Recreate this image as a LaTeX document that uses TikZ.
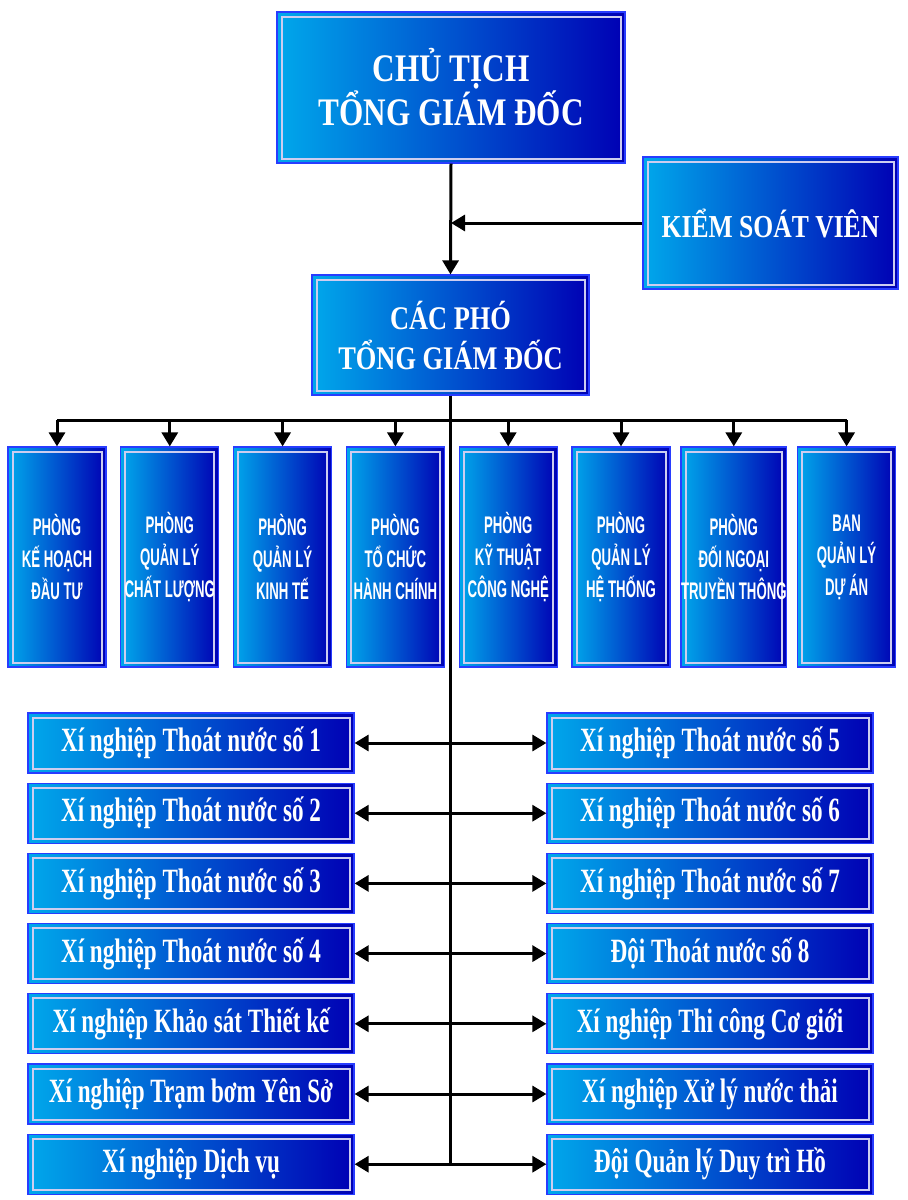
\documentclass[tikz,border=0pt]{standalone}
\usepackage{fontspec}
\setmainfont{Liberation Serif}
\newfontfamily\boxserif[FakeStretch=0.8]{Liberation Serif}
\newfontfamily\unitserif[FakeStretch=0.68]{Liberation Serif}
\newfontfamily\deptsans[FakeStretch=0.55]{Liberation Sans}
\usetikzlibrary{arrows.meta}
\definecolor{mycyan}{RGB}{0,168,235}
\definecolor{mydarkblue}{RGB}{0,0,180}
\definecolor{myedge}{RGB}{40,60,255}
\definecolor{myframe}{RGB}{205,205,240}
\tikzset{
  orgbox/.style={draw=myedge,line width=1.2pt,left color=mycyan,right color=mydarkblue,
    inner sep=0pt,text=white,align=center,
    path picture={\draw[myframe,line width=2pt]
      ([shift={(4.5pt,-4.5pt)}]path picture bounding box.north west) rectangle
      ([shift={(-4.5pt,4.5pt)}]path picture bounding box.south east);}},
  deptbox/.style={orgbox,minimum width=98pt,minimum height=220pt,
    font=\deptsans\bfseries\fontsize{24}{32}\selectfont},
  unitbox/.style={orgbox,minimum width=326pt,minimum height=60pt,
    font=\unitserif\bfseries\fontsize{34}{40}\selectfont},
  link/.style={line width=3pt},
  linkarrow/.style={line width=3pt,-{Triangle[width=16pt,length=14pt]}},
  linkboth/.style={line width=3pt,{Triangle[width=16pt,length=14pt]}-{Triangle[width=16pt,length=14pt]}}
}

\begin{document}
\begin{tikzpicture}[x=1pt,y=-1pt]
  \useasboundingbox (0,0) rectangle (908,1200);
  \node[orgbox,minimum width=348pt,minimum height=151pt,
    font=\boxserif\bfseries\fontsize{39}{44}\selectfont] (top) at (451,87.5)
    {CHỦ TỊCH\\TỔNG GIÁM ĐỐC};
  \node[orgbox,minimum width=255pt,minimum height=132pt,
    font=\boxserif\bfseries\fontsize{32}{40}\selectfont] (ksv) at (770.5,223)
    {KIỂM SOÁT VIÊN};
  \node[orgbox,minimum width=277pt,minimum height=120pt,
    font=\boxserif\bfseries\fontsize{33}{40}\selectfont] (pho) at (450.5,335)
    {CÁC PHÓ\\TỔNG GIÁM ĐỐC};
  \foreach \i/\dl in {1/{PHÒNG\\KẾ HOẠCH\\ĐẦU TƯ},2/{PHÒNG\\QUẢN LÝ\\CHẤT LƯỢNG},
      3/{PHÒNG\\QUẢN LÝ\\KINH TẾ},4/{PHÒNG\\TỔ CHỨC\\HÀNH CHÍNH},
      5/{PHÒNG\\KỸ THUẬT\\CÔNG NGHỆ},6/{PHÒNG\\QUẢN LÝ\\HỆ THỐNG},
      7/{PHÒNG\\ĐỐI NGOẠI\\TRUYỀN THÔNG},8/{BAN\\QUẢN LÝ\\DỰ ÁN}}
    \node[deptbox] (d\i) at ({57+(\i-1)*112.8},557) {\dl};
  \foreach \j/\ll/\rl in {1/Xí nghiệp Thoát nước số 1/Xí nghiệp Thoát nước số 5,
      2/Xí nghiệp Thoát nước số 2/Xí nghiệp Thoát nước số 6,
      3/Xí nghiệp Thoát nước số 3/Xí nghiệp Thoát nước số 7,
      4/Xí nghiệp Thoát nước số 4/Đội Thoát nước số 8,
      5/Xí nghiệp Khảo sát Thiết kế/Xí nghiệp Thi công Cơ giới,
      6/Xí nghiệp Trạm bơm Yên Sở/Xí nghiệp Xử lý nước thải,
      7/Xí nghiệp Dịch vụ/Đội Quản lý Duy trì Hồ} {
    \node[unitbox] (l\j) at (191,{743+(\j-1)*70.2}) {\ll};
    \node[unitbox] (r\j) at (710,{743+(\j-1)*70.2}) {\rl};}
  \coordinate (kjoin) at (top.south |- ksv.west);
  \coordinate (bus) at (451,420);
  \coordinate (trunkend) at (pho.south |- l7.east);
  \draw[linkarrow] (top.south) -- (pho.north);
  \draw[linkarrow] (ksv.west) -- (kjoin);
  \draw[link] (pho.south) -- (trunkend);
  \draw[link] (d1.north |- bus) -- (d8.north |- bus);
  \foreach \i in {1,...,8}
    \draw[linkarrow] (d\i.north |- bus) -- (d\i.north);
  \foreach \j in {1,...,7}
    \draw[linkboth] (l\j.east) -- (r\j.west);
\end{tikzpicture}
\end{document}
